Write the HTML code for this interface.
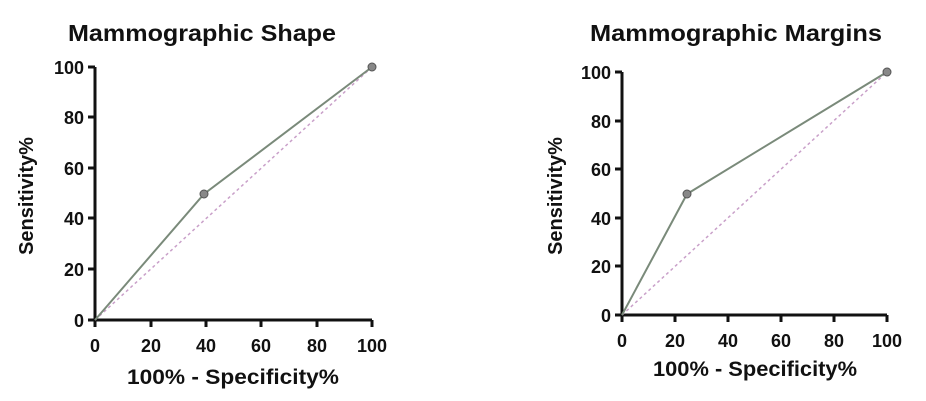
<!DOCTYPE html>
<html><head><meta charset="utf-8"><style>body{margin:0;background:#fff}svg{display:block}text{font-family:"Liberation Sans",sans-serif;font-weight:bold;fill:#111}</style></head><body>
<svg width="926" height="401" viewBox="0 0 926 401">
<!-- Left -->
<text x="202" y="41" font-size="23" text-anchor="middle" textLength="268" lengthAdjust="spacingAndGlyphs">Mammographic Shape</text>
<g stroke="#111" stroke-width="3" fill="none">
<path d="M95 67 V320 M88 320 H372"/>
<path d="M88 67H95 M88 117H95 M88 168H95 M88 218H95 M88 269H95"/>
<path d="M95 320V327 M151 320V327 M206 320V327 M261 320V327 M317 320V327 M372 320V327"/>
</g>
<g font-size="18" text-anchor="end">
<text x="84" y="74">100</text><text x="84" y="124">80</text><text x="84" y="175">60</text><text x="84" y="225">40</text><text x="84" y="276">20</text><text x="84" y="327">0</text></g>
<g font-size="18" text-anchor="middle">
<text x="95" y="352">0</text><text x="151" y="352">20</text><text x="206" y="352">40</text><text x="261" y="352">60</text><text x="317" y="352">80</text><text x="372" y="352">100</text></g>
<text x="233" y="384" font-size="21" text-anchor="middle" textLength="212" lengthAdjust="spacingAndGlyphs">100% - Specificity%</text>
<text transform="translate(33 196) rotate(-90)" font-size="20" text-anchor="middle">Sensitivity%</text>
<line x1="95" y1="320" x2="372" y2="67" stroke="#c9a0c9" stroke-width="1.5" stroke-dasharray="3 3"/>
<polyline points="95,320 204,194 372,67" fill="none" stroke="#7a8a7a" stroke-width="2"/>
<circle cx="204" cy="194" r="4" fill="#888" stroke="#555"/><circle cx="372" cy="67" r="4" fill="#888" stroke="#555"/>
<!-- Right -->
<text x="736" y="41" font-size="23" text-anchor="middle" textLength="292" lengthAdjust="spacingAndGlyphs">Mammographic Margins</text>
<g stroke="#111" stroke-width="3" fill="none">
<path d="M622 72 V315 M615 315 H887"/>
<path d="M615 72H622 M615 121H622 M615 169H622 M615 218H622 M615 266H622"/>
<path d="M622 315V322 M675 315V322 M728 315V322 M781 315V322 M834 315V322 M887 315V322"/>
</g>
<g font-size="18" text-anchor="end">
<text x="611" y="79">100</text><text x="611" y="128">80</text><text x="611" y="176">60</text><text x="611" y="225">40</text><text x="611" y="273">20</text><text x="611" y="322">0</text></g>
<g font-size="18" text-anchor="middle">
<text x="622" y="347">0</text><text x="675" y="347">20</text><text x="728" y="347">40</text><text x="781" y="347">60</text><text x="834" y="347">80</text><text x="887" y="347">100</text></g>
<text x="755" y="376" font-size="21" text-anchor="middle" textLength="204" lengthAdjust="spacingAndGlyphs">100% - Specificity%</text>
<text transform="translate(562 196) rotate(-90)" font-size="20" text-anchor="middle">Sensitivity%</text>
<line x1="622" y1="315" x2="887" y2="72" stroke="#c9a0c9" stroke-width="1.5" stroke-dasharray="3 3"/>
<polyline points="622,315 687,194 887,72" fill="none" stroke="#7a8a7a" stroke-width="2"/>
<circle cx="687" cy="194" r="4" fill="#888" stroke="#555"/><circle cx="887" cy="72" r="4" fill="#888" stroke="#555"/>
</svg>
</body></html>
